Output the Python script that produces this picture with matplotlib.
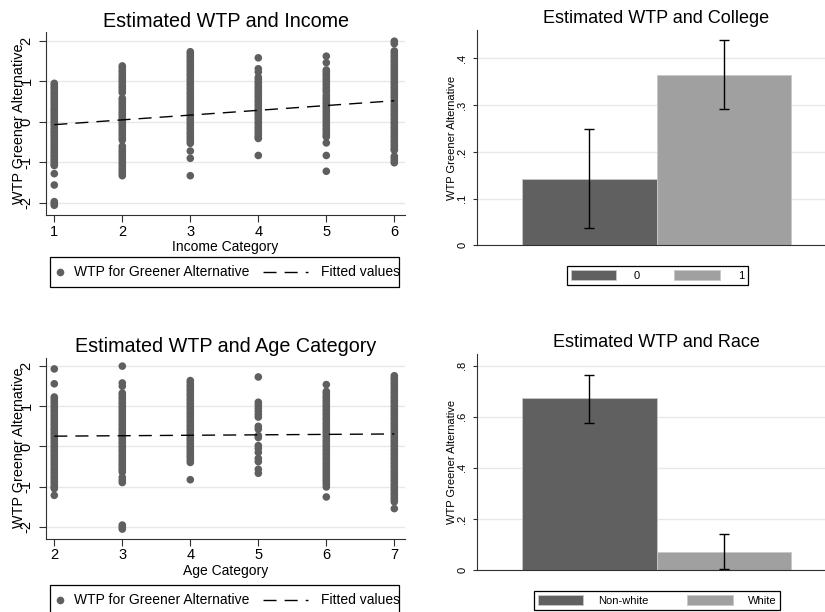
import matplotlib
matplotlib.use("Agg")
import matplotlib.pyplot as plt
from matplotlib.lines import Line2D
from matplotlib.patches import Rectangle, Patch
from matplotlib.ticker import FuncFormatter

plt.rcParams['font.family'] = ['Liberation Sans', 'DejaVu Sans']
plt.rcParams['axes.unicode_minus'] = False

# WTP by income category (1-6)
inc1 = [0.95, 0.91, 0.86, 0.82, 0.77, 0.72, 0.68, 0.63, 0.58, 0.54, 0.49, 0.45, 0.40, 0.35, 0.31,
        0.27, 0.22, 0.18, 0.13, 0.09, 0.04, 0.00, -0.05, -0.09, -0.14, -0.18, -0.23, -0.27, -0.32,
        -0.36, -0.41, -0.45, -0.50, -0.55, -0.59, -0.64, -0.68, -0.73, -0.77, -0.82, -0.86, -0.91,
        -0.95, -1.00, -1.05, -1.08, -1.28, -1.56, -1.97, -2.02, -2.06]
inc2 = [1.38, 1.33, 1.27, 1.22, 1.16, 1.10, 1.05, 1.00, 0.94, 0.88, 0.83, 0.77, 0.72,
        0.58, 0.53, 0.47, 0.42, 0.36, 0.31, 0.25, 0.20, 0.15, 0.09, 0.04, -0.02, -0.07, -0.12,
        -0.18, -0.23, -0.29, -0.34, -0.40, -0.45,
        -0.60, -0.66, -0.72, -0.77, -0.83, -0.88, -0.94, -1.00, -1.05, -1.11, -1.17, -1.22, -1.28, -1.33]
inc3 = [1.73, 1.68, 1.62, 1.57, 1.51, 1.46, 1.40, 1.35, 1.29, 1.24, 1.18, 1.13, 1.07, 1.02, 0.96,
        0.91, 0.85, 0.80, 0.74, 0.69, 0.63, 0.58, 0.52, 0.47, 0.41, 0.36, 0.30, 0.25, 0.19, 0.14,
        0.08, 0.03, -0.03, -0.08, -0.14, -0.19, -0.25, -0.30, -0.36, -0.41, -0.47, -0.53,
        -0.72, -0.90, -1.33]
inc4 = [1.58, 1.31, 1.23, 1.10, 1.05, 0.99, 0.94, 0.88, 0.83, 0.77, 0.72, 0.66, 0.61, 0.55, 0.50,
        0.44, 0.39, 0.33, 0.28, 0.22, 0.17, 0.11, 0.06, 0.00, -0.05, -0.11, -0.16, -0.22, -0.27,
        -0.33, -0.38, -0.41, -0.83]
inc5 = [1.62, 1.46, 1.28, 1.23, 1.17, 1.12, 1.06, 1.01, 0.95, 0.90, 0.84, 0.79, 0.74, 0.66, 0.60,
        0.55, 0.49, 0.44, 0.38, 0.33, 0.27, 0.22, 0.16, 0.11, 0.05, 0.00, -0.06, -0.11, -0.17,
        -0.22, -0.28, -0.33, -0.37, -0.52, -0.83, -1.22]
inc6 = [1.99, 1.93, 1.75, 1.70, 1.64, 1.59, 1.53, 1.48, 1.42, 1.37, 1.31, 1.26, 1.20, 1.15, 1.09,
        1.04, 0.98, 0.93, 0.87, 0.82, 0.76, 0.71, 0.65, 0.60, 0.54, 0.49, 0.43, 0.38, 0.32, 0.27,
        0.21, 0.16, 0.10, 0.05, -0.01, -0.06, -0.12, -0.17, -0.23, -0.28, -0.34, -0.39, -0.45,
        -0.50, -0.56, -0.61, -0.67, -0.70, -0.85, -0.90, -0.96, -1.01]
income_groups = [1, 2, 3, 4, 5, 6]
income_wtp = [inc1, inc2, inc3, inc4, inc5, inc6]
income_fit_x = [1, 6]
income_fit_y = [-0.07, 0.52]

# WTP by age category (2-7)
age2 = [1.93, 1.56, 1.23, 1.18, 1.12, 1.07, 1.01, 0.96, 0.90, 0.85, 0.79, 0.74, 0.68, 0.63, 0.57,
        0.52, 0.46, 0.41, 0.35, 0.30, 0.24, 0.19, 0.13, 0.08, 0.02, -0.03, -0.09, -0.14, -0.20,
        -0.25, -0.31, -0.36, -0.42, -0.47, -0.53, -0.58, -0.64, -0.69, -0.75, -0.80, -0.86,
        -0.91, -0.97, -1.02, -1.05, -1.22]
age3 = [2.00, 1.58, 1.50, 1.33, 1.28, 1.22, 1.17, 1.11, 1.06, 1.00, 0.95, 0.89, 0.84, 0.78, 0.73,
        0.67, 0.62, 0.56, 0.51, 0.45, 0.40, 0.34, 0.29, 0.23, 0.18, 0.12, 0.07, 0.01, -0.04,
        -0.10, -0.15, -0.21, -0.26, -0.32, -0.37, -0.43, -0.48, -0.54, -0.59, -0.64,
        -0.77, -0.84, -0.90, -1.96, -2.01, -2.06]
age4 = [1.64, 1.59, 1.53, 1.48, 1.42, 1.37, 1.31, 1.26, 1.20, 1.15, 1.09, 1.04, 0.98, 0.93, 0.87,
        0.82, 0.76, 0.71, 0.65, 0.60, 0.54, 0.49, 0.43, 0.38, 0.32, 0.27, 0.21, 0.16, 0.10, 0.05,
        -0.01, -0.06, -0.12, -0.17, -0.23, -0.28, -0.34, -0.40, -0.83]
age5 = [1.73, 1.10, 1.03, 0.95, 0.88, 0.80, 0.73, 0.50, 0.43, 0.27, 0.22, 0.02, -0.05, -0.15,
        -0.30, -0.38, -0.57, -0.67]
age6 = [1.54, 1.37, 1.32, 1.26, 1.21, 1.15, 1.10, 1.04, 0.99, 0.93, 0.88, 0.82, 0.77, 0.71, 0.66,
        0.60, 0.55, 0.49, 0.44, 0.38, 0.33, 0.27, 0.22, 0.16, 0.11, 0.05, 0.00, -0.06, -0.11,
        -0.17, -0.22, -0.28, -0.33, -0.39, -0.44, -0.50, -0.55, -0.61, -0.66, -0.72, -0.77,
        -0.83, -0.88, -0.94, -1.01, -1.26]
age7 = [1.76, 1.70, 1.65, 1.59, 1.54, 1.48, 1.43, 1.37, 1.32, 1.26, 1.21, 1.15, 1.10, 1.04, 0.99,
        0.93, 0.88, 0.82, 0.77, 0.71, 0.66, 0.60, 0.55, 0.49, 0.44, 0.38, 0.33, 0.27, 0.22, 0.16,
        0.11, 0.05, 0.00, -0.06, -0.11, -0.17, -0.22, -0.28, -0.33, -0.39, -0.44, -0.50, -0.55,
        -0.61, -0.66, -0.72, -0.77, -0.83, -0.88, -0.94, -0.99, -1.05, -1.10, -1.16, -1.21,
        -1.27, -1.32, -1.38, -1.55]
age_groups = [2, 3, 4, 5, 6, 7]
age_wtp = [age2, age3, age4, age5, age6, age7]
age_fit_x = [2, 7]
age_fit_y = [0.255, 0.31]

# Mean WTP with confidence intervals
college_labels = ['0', '1']
college_mean = [0.143, 0.365]
college_lo = [0.036, 0.291]
college_hi = [0.249, 0.439]

race_labels = ['Non-white', 'White']
race_mean = [0.672, 0.073]
race_lo = [0.577, 0.004]
race_hi = [0.765, 0.141]

W, H = 825, 612
DOT = '#5f5f5f'
DARK = '#606060'
LIGHT = '#a0a0a0'
GRID = '#e8e8e8'
SPINE = '#303030'
DASH = (0, (9.4, 5.8))


def fx(px):
    return px / W


def fy(py):
    return 1 - py / H


def box(left, top, right, bottom):
    return [fx(left), fy(bottom), fx(right) - fx(left), fy(top) - fy(bottom)]


def stata_fmt(v, pos):
    s = ('%g' % round(v, 3))
    if s.startswith('0.'):
        s = s[1:]
    elif s.startswith('-0.'):
        s = '-' + s[2:]
    return s


def style_axes(ax):
    for side in ['top', 'right']:
        ax.spines[side].set_visible(False)
    for side in ['left', 'bottom']:
        ax.spines[side].set_color(SPINE)
        ax.spines[side].set_linewidth(0.8)
    ax.set_axisbelow(True)
    ax.yaxis.grid(True, color=GRID, linewidth=1.0)


def scatter_panel(ax, groups, values, fit_x, fit_y, title, xlabel):
    for g, vals in zip(groups, values):
        ax.scatter([g] * len(vals), vals, s=30, color=DOT, edgecolors='none', zorder=3)
    ax.plot(fit_x, fit_y, color='black', linewidth=1.0, linestyle=DASH, zorder=4)
    style_axes(ax)
    ax.set_xlim(groups[0] - 0.122, groups[-1] + 0.157)
    ax.set_ylim(-2.30, 2.21)
    ax.set_xticks(groups)
    ax.set_yticks([-2, -1, 0, 1, 2])
    ax.tick_params(axis='x', length=5, width=0.8, color=SPINE, labelsize=10.5, pad=2)
    ax.tick_params(axis='y', length=5, width=0.8, color=SPINE, labelsize=10.5, pad=4)
    for lab in ax.get_yticklabels():
        lab.set_rotation(90)
        lab.set_va('center')
    ax.set_title(title, fontsize=14.2, pad=4)
    ax.set_xlabel(xlabel, fontsize=10, labelpad=1)
    ax.set_ylabel('WTP Greener Alternative', fontsize=10.4)
    ax.yaxis.set_label_coords(-0.055, 0.5)


def scatter_key(fig, top):
    # legend frame drawn in figure space so the key matches the plot width
    left, right, h = 50, 399, 30
    cy = top + h / 2
    fig.add_artist(Rectangle((fx(left), fy(top + h)), fx(right) - fx(left), fy(top) - fy(top + h),
                             transform=fig.transFigure, fill=False, edgecolor='black', linewidth=0.9))
    fig.add_artist(Line2D([fx(60)], [fy(cy)], marker='o', markersize=5.5, color=DOT,
                          markeredgewidth=0, transform=fig.transFigure))
    fig.text(fx(74), fy(cy), 'WTP for Greener Alternative', fontsize=10, va='center', ha='left')
    fig.add_artist(Line2D([fx(263), fx(308)], [fy(cy), fy(cy)], color='black', linewidth=1.0,
                          linestyle=DASH, transform=fig.transFigure))
    fig.text(fx(321), fy(cy), 'Fitted values', fontsize=10, va='center', ha='left')


def bar_panel(ax, labels, mean, lo, hi, ylim_top, ticks, title, leg_anchor, leg_spacing, leg_pad):
    pos = list(range(len(labels)))
    colors = [DARK, LIGHT]
    ax.bar(pos, mean, width=1.0, color=colors, edgecolor='#c8c8c8', linewidth=0.6, zorder=2)
    err = [[m - l for m, l in zip(mean, lo)], [h - m for m, h in zip(mean, hi)]]
    ax.errorbar(pos, mean, yerr=err, fmt='none', ecolor='black', elinewidth=1.0,
                capsize=3.5, capthick=1.0, zorder=3)
    style_axes(ax)
    ax.set_xlim(-0.83, 1.83)
    ax.set_ylim(0, ylim_top)
    ax.set_xticks([])
    ax.set_yticks(ticks)
    ax.yaxis.set_major_formatter(FuncFormatter(stata_fmt))
    ax.tick_params(axis='y', length=3, width=0.8, color=SPINE, labelsize=8, pad=4)
    for lab in ax.get_yticklabels():
        lab.set_rotation(90)
        lab.set_va('center')
    ax.set_title(title, fontsize=13, pad=5)
    ax.set_ylabel('WTP Greener Alternative', fontsize=8)
    ax.yaxis.set_label_coords(-0.056, 0.5)
    handles = [Patch(facecolor=c, edgecolor='#c8c8c8', linewidth=0.6) for c in colors]
    leg = ax.legend(handles, labels, loc='upper center', bbox_to_anchor=leg_anchor,
                    bbox_transform=ax.figure.transFigure, ncol=2, fontsize=8,
                    frameon=True, fancybox=False, edgecolor='black', framealpha=1,
                    handlelength=4.1, handleheight=1.0, handletextpad=leg_pad,
                    columnspacing=leg_spacing, borderpad=0.35, borderaxespad=0)
    leg.get_frame().set_linewidth(0.9)


fig = plt.figure(figsize=(W / 100, H / 100), dpi=100)
fig.patch.set_facecolor('white')

ax1 = fig.add_axes(box(46, 32.3, 405, 215))
scatter_panel(ax1, income_groups, income_wtp, income_fit_x, income_fit_y,
              'Estimated WTP and Income', 'Income Category')
scatter_key(fig, 256.7)

ax3 = fig.add_axes(box(46, 357.7, 405, 538.7))
scatter_panel(ax3, age_groups, age_wtp, age_fit_x, age_fit_y,
              'Estimated WTP and Age Category', 'Age Category')
scatter_key(fig, 585)

ax2 = fig.add_axes(box(477, 30, 836, 245.3))
bar_panel(ax2, college_labels, college_mean, college_lo, college_hi, 0.461,
          [0, 0.1, 0.2, 0.3, 0.4], 'Estimated WTP and College',
          (fx(657.3), fy(266)), 3.1, 1.6)

ax4 = fig.add_axes(box(477, 354.3, 836, 570.3))
bar_panel(ax4, race_labels, race_mean, race_lo, race_hi, 0.844,
          [0, 0.2, 0.4, 0.6, 0.8], 'Estimated WTP and Race',
          (fx(657), fy(591)), 3.5, 1.35)

fig.savefig('out.png', dpi=100)
